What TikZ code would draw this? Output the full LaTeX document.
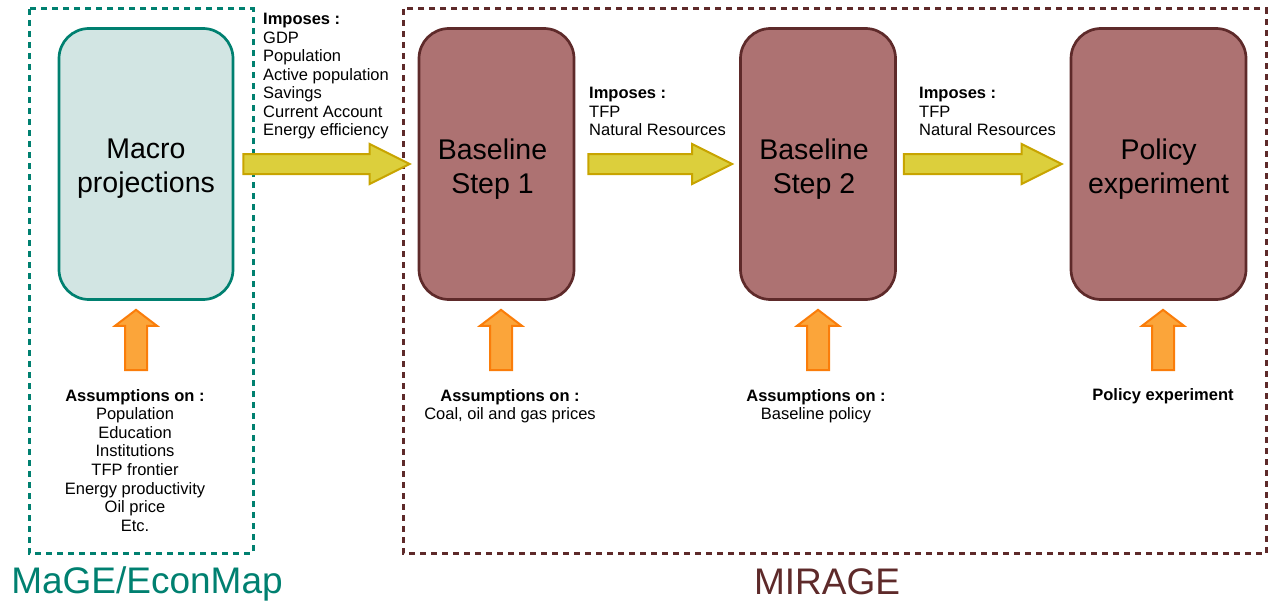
\documentclass[tikz,border=0pt]{standalone}
\usepackage{fontspec}
\setmainfont{Liberation Sans}
\usetikzlibrary{calc}
\definecolor{tealc}{RGB}{0,128,112}
\definecolor{tealfill}{RGB}{210,229,227}
\definecolor{brn}{RGB}{94,42,42}
\definecolor{boxfill}{RGB}{173,114,114}
\definecolor{yfill}{RGB}{220,207,60}
\definecolor{ydraw}{RGB}{200,164,0}
\definecolor{ofill}{RGB}{251,165,58}
\definecolor{odraw}{RGB}{250,125,10}
\newcommand\yellowarrow[2]{%
  \path[yarr] let \p1=(#1), \p2=(#2) in
    (\x1,\y1+10pt) -- (\x2-40pt,\y1+10pt) -- (\x2-40pt,\y1+20pt) -- (\x2,\y1)
    -- (\x2-40pt,\y1-20pt) -- (\x2-40pt,\y1-10pt) -- (\x1,\y1-10pt) -- cycle;}
\newcommand\orangearrow[2]{%
  \path[oarr] let \p1=(#1), \p2=(#2) in
    (\x1-11pt,\y1) -- (\x1-11pt,\y2-16pt) -- (\x1-21pt,\y2-16pt) -- (\x1,\y2)
    -- (\x1+21pt,\y2-16pt) -- (\x1+11pt,\y2-16pt) -- (\x1+11pt,\y1) -- cycle;}
\begin{document}
\begin{tikzpicture}[x=1pt,y=-1pt,
  dashframe/.style={dash pattern=on 6pt off 5pt, line width=3pt},
  modbox/.style={rounded corners=30pt, line width=2.7pt,
    minimum height=271pt, inner sep=0pt},
  macrobox/.style={modbox, draw=tealc, fill=tealfill, minimum width=174pt},
  mirbox/.style={modbox, draw=brn, fill=boxfill, minimum width=155pt},
  boxtext/.style={align=center, inner sep=0pt, font=\fontsize{28.5}{34}\selectfont},
  lbl/.style={align=left, inner sep=0pt, font=\fontsize{16.5}{18.5}\selectfont},
  clbl/.style={align=center, inner sep=0pt, font=\fontsize{16.5}{18.6}\selectfont},
  biglbl/.style={inner sep=0pt, font=\fontsize{37}{40}\selectfont},
  yarr/.style={fill=yfill, draw=ydraw, line width=2pt, line join=miter},
  oarr/.style={fill=ofill, draw=odraw, line width=2pt, line join=miter}]
\useasboundingbox (0,0) rectangle (1268,602);
% frames
\coordinate (mageA) at (29,9);
\coordinate (mageB) at (253,553);
\coordinate (mirA) at (403,9);
\coordinate (mirB) at (1266.5,553);
\draw[dashframe, draw=tealc] (mageA) rectangle (mageB);
\draw[dashframe, draw=brn] (mirA) rectangle (mirB);
% model boxes
\node[macrobox] (macro) at (146,164) {};
\node[mirbox] (s1) at (496.5,164) {};
\node[mirbox] (s2) at (818,164) {};
\node[mirbox, minimum width=175pt] (pol) at (1158.5,164) {};
\node[boxtext] (macrot) at ($(macro.center)+(0,5)$) {Macro\\projections};
\node[boxtext] (s1t) at ($(s1.center)+(-4,5)$) {Baseline\\Step 1};
\node[boxtext] (s2t) at ($(s2.center)+(-4,5)$) {Baseline\\Step 2};
\node[boxtext] (polt) at ($(pol.center)+(0,5)$) {Policy\\experiment};
% yellow arrows
\coordinate (y1s) at ($(macro.east)+(9,0)$);
\coordinate (y1e) at ($(s1.west)+(-8,0)$);
\coordinate (y2s) at ($(s1.east)+(13,0)$);
\coordinate (y2e) at ($(s2.west)+(-7,0)$);
\coordinate (y3s) at ($(s2.east)+(7,0)$);
\coordinate (y3e) at ($(pol.west)+(-8,0)$);
\yellowarrow{y1s}{y1e}
\yellowarrow{y2s}{y2e}
\yellowarrow{y3s}{y3e}
% orange arrows
\coordinate (o0) at (136,370);
\coordinate (o1) at (501,370);
\coordinate (o2) at (818,370);
\coordinate (o3) at (1163,370);
\orangearrow{o0}{$(macro.south)+(0,9)$}
\orangearrow{o1}{$(s1.south)+(0,9)$}
\orangearrow{o2}{$(s2.south)+(0,9)$}
\orangearrow{o3}{$(pol.south)+(0,9)$}
% imposes labels
\node[lbl, anchor=north west] (imp1) at (263,13) {\textbf{Imposes :}\\GDP\\Population\\Active population\\Savings\\Current Account\\Energy efficiency};
\node[lbl, anchor=north west] (imp2) at (589,87) {\textbf{Imposes :}\\TFP\\Natural Resources};
\node[lbl, anchor=north west] (imp3) at (919,87) {\textbf{Imposes :}\\TFP\\Natural Resources};
% assumptions
\node[clbl, anchor=north] (as0) at (135,389) {\textbf{Assumptions on :}\\Population\\Education\\Institutions\\TFP frontier\\Energy productivity\\Oil price\\Etc.};
\node[clbl, anchor=north] (as1) at (510,389) {\textbf{Assumptions on :}\\Coal, oil and gas prices};
\node[clbl, anchor=north] (as2) at (816,389) {\textbf{Assumptions on :}\\Baseline policy};
\node[clbl, anchor=north] (as3) at (1163,388) {\textbf{Policy experiment}};
% group labels
\node[biglbl, text=tealc, anchor=base] (magelbl) at (147,593) {MaGE/EconMap};
\node[biglbl, text=brn, anchor=base] (mirlbl) at (827,594) {MIRAGE};
\end{tikzpicture}
\end{document}
